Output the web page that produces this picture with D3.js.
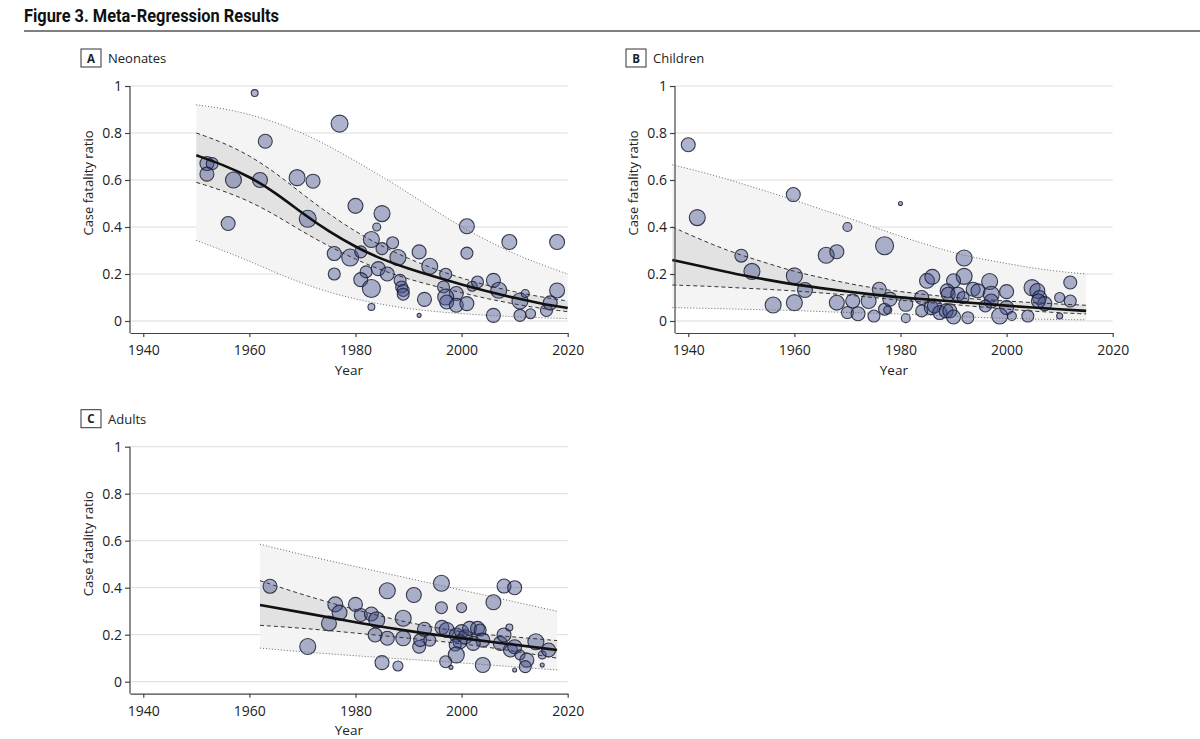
<!DOCTYPE html>
<html>
<head>
<meta charset="utf-8">
<script src="https://cdn.jsdelivr.net/npm/d3@7"></script>
<style>
  body { margin: 0; background: #fff; }
  text { font-family: "Open Sans", "Noto Sans", sans-serif; fill: #222; }
</style>
</head>
<body>
<svg id="chart" width="1200" height="739"></svg>
<script>
// ---- data ----
const yTicks = [0, 0.2, 0.4, 0.6, 0.8, 1];
const xTicks = [1940, 1960, 1980, 2000, 2020];

// A. Neonates: studies (year, case fatality ratio, weight)
const neoYear = [1961, 1977, 1963, 1952, 1953, 1952, 1957, 1962, 1956, 1969, 1972, 1971, 1980, 1976, 1976, 1979, 1983, 1981, 1984, 1985,
  1987, 1985, 1988, 1982, 1984.3, 1986, 1981, 1983, 1988.4, 1988.7, 1989, 1989, 1983, 1992, 1994, 1993, 1992, 1997, 1996.6, 1999,
  1997, 1997.2, 1999, 2001, 2001, 2001, 2002, 2003, 2006, 2007, 2006, 2009, 2011, 2012, 2011, 2013, 2016, 2016.7, 2018, 2018];
const neoCfr = [0.97, 0.84, 0.765, 0.67, 0.67, 0.625, 0.60, 0.60, 0.415, 0.61, 0.595, 0.435, 0.49, 0.287, 0.20, 0.27, 0.347, 0.294, 0.40, 0.457,
  0.333, 0.308, 0.27, 0.209, 0.223, 0.20, 0.176, 0.138, 0.173, 0.145, 0.13, 0.114, 0.06, 0.294, 0.233, 0.092, 0.024, 0.199, 0.145, 0.117,
  0.102, 0.081, 0.067, 0.074, 0.403, 0.289, 0.148, 0.166, 0.173, 0.131, 0.024, 0.336, 0.085, 0.117, 0.024, 0.031, 0.045, 0.077, 0.336, 0.13];
const neoWeight = [12, 72, 49, 49, 36, 49, 64, 56, 49, 64, 49, 72, 56, 49, 36, 72, 64, 36, 16, 64,
  36, 36, 64, 36, 49, 49, 49, 81, 36, 36, 36, 36, 12, 49, 64, 49, 4, 36, 36, 49,
  64, 49, 49, 49, 56, 36, 25, 36, 49, 64, 49, 56, 64, 16, 36, 25, 36, 49, 56, 56];
const neoFitYear = [1950, 1955, 1960, 1965, 1970, 1975, 1980, 1985, 1990, 1995, 2000, 2005, 2010, 2015, 2020];
const neoFit  = [0.705, 0.665, 0.615, 0.545, 0.458, 0.38, 0.315, 0.262, 0.222, 0.188, 0.155, 0.125, 0.098, 0.074, 0.055];
const neoCiHi = [0.80, 0.76, 0.705, 0.63, 0.54, 0.455, 0.38, 0.318, 0.265, 0.22, 0.182, 0.15, 0.124, 0.102, 0.085];
const neoCiLo = [0.59, 0.555, 0.51, 0.45, 0.38, 0.318, 0.262, 0.215, 0.178, 0.148, 0.12, 0.094, 0.072, 0.053, 0.04];
const neoPiHi = [0.92, 0.905, 0.88, 0.845, 0.80, 0.745, 0.68, 0.615, 0.545, 0.47, 0.40, 0.34, 0.285, 0.24, 0.20];
const neoPiLo = [0.343, 0.30, 0.255, 0.205, 0.16, 0.122, 0.093, 0.07, 0.052, 0.04, 0.031, 0.024, 0.018, 0.014, 0.01];

// B. Children
const chiYear = [1940, 1941.7, 1959.8, 1980, 1970, 1977, 1966, 1968, 1950, 1952, 1956, 1960, 1962, 1960, 1968, 1970, 1972, 1971, 1974, 1976,
  1975, 1977, 1978, 1977.6, 1981, 1981, 1992, 1985, 1986, 1992, 1990, 1988.8, 1989, 1990.8, 1984, 1984, 1985.8, 1986.4, 1987.4, 1988.6,
  1989.3, 1990, 1992.7, 1991.8, 1993.7, 1994.6, 1996.8, 1997.1, 1997.1, 1996, 2000, 2000, 1998.7, 2001, 2004, 2004.8, 2005.8, 2006.2, 2007.2, 2006,
  2010, 2010, 2012, 2012];
const chiCfr = [0.75, 0.44, 0.538, 0.50, 0.40, 0.32, 0.28, 0.295, 0.278, 0.211, 0.068, 0.192, 0.132, 0.078, 0.078, 0.036, 0.031, 0.085, 0.085, 0.135,
  0.021, 0.05, 0.093, 0.047, 0.071, 0.012, 0.268, 0.171, 0.188, 0.19, 0.171, 0.128, 0.114, 0.114, 0.10, 0.043, 0.057, 0.064, 0.036, 0.043,
  0.043, 0.017, 0.014, 0.10, 0.135, 0.128, 0.168, 0.114, 0.085, 0.064, 0.125, 0.057, 0.021, 0.021, 0.021, 0.142, 0.128, 0.10, 0.074, 0.085,
  0.10, 0.021, 0.164, 0.085];
const chiWeight = [49, 64, 49, 4, 20, 81, 64, 49, 42, 64, 64, 64, 56, 64, 56, 36, 49, 49, 56, 49,
  36, 36, 49, 16, 49, 20, 64, 56, 56, 64, 49, 49, 49, 49, 49, 36, 49, 49, 49, 49,
  49, 49, 36, 36, 49, 49, 64, 64, 49, 36, 49, 49, 64, 20, 36, 64, 56, 49, 49, 49,
  25, 9, 42, 36];
const chiFitYear = [1937, 1945, 1950, 1955, 1960, 1965, 1970, 1975, 1980, 1985, 1990, 1995, 2000, 2005, 2010, 2015];
const chiFit  = [0.26, 0.22, 0.195, 0.175, 0.155, 0.14, 0.125, 0.112, 0.10, 0.092, 0.083, 0.075, 0.065, 0.057, 0.05, 0.043];
const chiCiHi = [0.40, 0.32, 0.28, 0.245, 0.21, 0.185, 0.16, 0.14, 0.125, 0.112, 0.10, 0.092, 0.085, 0.078, 0.072, 0.067];
const chiCiLo = [0.153, 0.147, 0.14, 0.135, 0.128, 0.12, 0.11, 0.10, 0.088, 0.079, 0.07, 0.06, 0.05, 0.042, 0.035, 0.03];
const chiPiHi = [0.665, 0.62, 0.585, 0.55, 0.515, 0.475, 0.44, 0.40, 0.36, 0.325, 0.29, 0.265, 0.245, 0.225, 0.21, 0.20];
const chiPiLo = [0.057, 0.053, 0.05, 0.047, 0.045, 0.04, 0.036, 0.033, 0.03, 0.025, 0.02, 0.015, 0.011, 0.008, 0.006, 0.005];

// C. Adults
const aduYear = [1963.9, 1971, 1976.2, 1977, 1975, 1980, 1981, 1983, 1984, 1983.7, 1986, 1986, 1985, 1988, 1989, 1989, 1991, 1992, 1992.2, 1993,
  1994, 1996.2, 1996.2, 2000, 1996.3, 1997.2, 1999, 2000, 2000.7, 1999.7, 1998.8, 1999, 1997, 1998, 2001.5, 2003, 2003.5, 2004, 2002.2, 2004,
  2006, 2008, 2010, 2007.3, 2008, 2009, 2009.2, 2010, 2011, 2012.3, 2012, 2010, 2014, 2015.2, 2015.2, 2016.4];
const aduCfr = [0.406, 0.15, 0.329, 0.294, 0.248, 0.329, 0.284, 0.288, 0.263, 0.199, 0.185, 0.387, 0.081, 0.067, 0.27, 0.185, 0.369, 0.149, 0.177, 0.223,
  0.177, 0.419, 0.315, 0.315, 0.231, 0.22, 0.199, 0.213, 0.191, 0.17, 0.156, 0.114, 0.085, 0.061, 0.227, 0.227, 0.22, 0.177, 0.163, 0.071,
  0.338, 0.407, 0.40, 0.163, 0.199, 0.231, 0.135, 0.149, 0.114, 0.092, 0.064, 0.05, 0.17, 0.114, 0.071, 0.135];
const aduWeight = [49, 64, 56, 56, 56, 49, 42, 49, 64, 49, 49, 64, 49, 25, 64, 56, 56, 42, 42, 49,
  36, 64, 36, 25, 49, 56, 49, 49, 49, 49, 36, 64, 36, 4, 49, 49, 36, 49, 49, 56,
  56, 49, 49, 49, 49, 12, 49, 49, 25, 49, 36, 4, 64, 16, 4, 49];
const aduFitYear = [1962, 1970, 1980, 1990, 2000, 2010, 2018];
const aduFit  = [0.326, 0.295, 0.252, 0.215, 0.185, 0.157, 0.135];
const aduCiHi = [0.43, 0.37, 0.305, 0.25, 0.21, 0.19, 0.175];
const aduCiLo = [0.24, 0.228, 0.207, 0.185, 0.163, 0.13, 0.10];
const aduPiHi = [0.585, 0.54, 0.49, 0.44, 0.39, 0.34, 0.30];
const aduPiLo = [0.143, 0.127, 0.11, 0.095, 0.08, 0.063, 0.05];

// ---- drawing ----
const svg = d3.select("#chart");

svg.append("text")
  .attr("x", 24).attr("y", 22)
  .attr("textLength", 255).attr("lengthAdjust", "spacingAndGlyphs")
  .style("font-family", "'Roboto', 'Open Sans', sans-serif")
  .style("font-weight", "bold").style("font-size", "17.5px").style("fill", "#111")
  .text("Figure 3. Meta-Regression Results");
svg.append("line")
  .attr("x1", 24).attr("x2", 1200).attr("y1", 31).attr("y2", 31)
  .attr("stroke", "#555").attr("stroke-width", 1.5);

const rScale = d3.scaleSqrt().domain([0, 100]).range([0, 10]);

function panel(p) {
  const x = d3.scaleLinear().domain([1937.5, 2020]).range([p.left, p.left + 437.7]);
  const y = d3.scaleLinear().domain([0, 1]).range([p.top + 235, p.top]);
  const g = svg.append("g");
  const axisY = y(0) + 12;

  // gridlines
  g.selectAll(".grid").data(yTicks).join("line")
    .attr("x1", p.left).attr("x2", x(2020))
    .attr("y1", d => y(d)).attr("y2", d => y(d))
    .attr("stroke", "#dcdcdc").attr("stroke-width", 1);

  const curve = p.fitYear.map((yr, i) => ({
    year: yr, fit: p.fit[i], ciLo: p.ciLo[i], ciHi: p.ciHi[i], piLo: p.piLo[i], piHi: p.piHi[i]
  }));

  const band = (lo, hi) => d3.area()
    .x(d => x(d.year)).y0(d => y(d[lo])).y1(d => y(d[hi]))
    .curve(d3.curveBasis);
  const line = key => d3.line()
    .x(d => x(d.year)).y(d => y(d[key]))
    .curve(d3.curveBasis);

  g.append("path").datum(curve).attr("d", band("piLo", "piHi")).attr("fill", "#f4f4f4");
  g.append("path").datum(curve).attr("d", band("ciLo", "ciHi")).attr("fill", "#e2e2e2");

  // studies
  const pts = p.year.map((yr, i) => ({ year: yr, cfr: p.cfr[i], w: p.weight[i] }));
  g.selectAll(".pt").data(pts).join("circle")
    .attr("cx", d => x(d.year)).attr("cy", d => y(d.cfr)).attr("r", d => rScale(d.w))
    .attr("fill", "#3f4a8a").attr("fill-opacity", 0.42)
    .attr("stroke", "#1c1f33").attr("stroke-opacity", 0.85).attr("stroke-width", 1.1);

  ["piLo", "piHi"].forEach(k => g.append("path").datum(curve).attr("d", line(k))
    .attr("fill", "none").attr("stroke", "#666").attr("stroke-width", 1).attr("stroke-dasharray", "1,2"));
  ["ciLo", "ciHi"].forEach(k => g.append("path").datum(curve).attr("d", line(k))
    .attr("fill", "none").attr("stroke", "#333").attr("stroke-width", 1).attr("stroke-dasharray", "4,3"));
  g.append("path").datum(curve).attr("d", line("fit"))
    .attr("fill", "none").attr("stroke", "#111").attr("stroke-width", 2.6);

  // axes
  const xa = g.append("g").attr("transform", `translate(0,${axisY})`)
    .call(d3.axisBottom(x).tickValues(xTicks).tickFormat(d3.format("d")).tickSize(4).tickSizeOuter(0).tickPadding(8));
  const ya = g.append("g").attr("transform", `translate(${p.left},0)`)
    .call(d3.axisLeft(y).tickValues(yTicks).tickFormat(d => d === 0 ? "0" : d === 1 ? "1" : d3.format(".1f")(d)).tickSize(5).tickPadding(3));
  ya.select(".domain").remove();
  g.append("line").attr("x1", p.left).attr("x2", p.left).attr("y1", y(1)).attr("y2", axisY)
    .attr("stroke", "#444").attr("stroke-width", 1.2);
  [xa, ya].forEach(a => {
    a.selectAll("path, line").attr("stroke", "#444").attr("stroke-width", 1.2);
    a.selectAll("text").style("font-size", "14px").style("fill", "#222")
      .style("font-family", "'Open Sans', sans-serif");
  });

  g.append("text")
    .attr("transform", `translate(${p.left - 37},${p.top + 97}) rotate(-90)`)
    .attr("text-anchor", "middle").style("font-size", "13px")
    .text("Case fatality ratio");
  g.append("text")
    .attr("x", (p.left + x(2020)) / 2).attr("y", y(0) + 53.5)
    .attr("text-anchor", "middle").style("font-size", "13.5px")
    .text("Year");

  // panel label
  g.append("rect").attr("x", p.left - 49).attr("y", p.top - 37).attr("width", 20).attr("height", 18)
    .attr("fill", "#fff").attr("stroke", "#333").attr("stroke-width", 1);
  g.append("text").attr("x", p.left - 39).attr("y", p.top - 23.5).attr("text-anchor", "middle")
    .style("font-size", "11.5px").style("font-weight", "bold").text(p.letter);
  g.append("text").attr("x", p.left - 22).attr("y", p.top - 23)
    .style("font-size", "13px").text(p.name);
}

panel({ letter: "A", name: "Neonates", left: 130, top: 86,
  year: neoYear, cfr: neoCfr, weight: neoWeight,
  fitYear: neoFitYear, fit: neoFit, ciLo: neoCiLo, ciHi: neoCiHi, piLo: neoPiLo, piHi: neoPiHi });
panel({ letter: "B", name: "Children", left: 675, top: 86,
  year: chiYear, cfr: chiCfr, weight: chiWeight,
  fitYear: chiFitYear, fit: chiFit, ciLo: chiCiLo, ciHi: chiCiHi, piLo: chiPiLo, piHi: chiPiHi });
panel({ letter: "C", name: "Adults", left: 130, top: 446.7,
  year: aduYear, cfr: aduCfr, weight: aduWeight,
  fitYear: aduFitYear, fit: aduFit, ciLo: aduCiLo, ciHi: aduCiHi, piLo: aduPiLo, piHi: aduPiHi });
</script>
</body>
</html>
